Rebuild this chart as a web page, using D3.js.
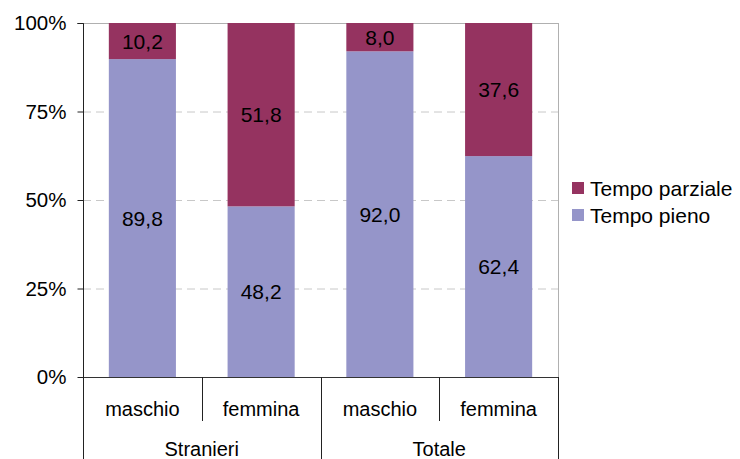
<!DOCTYPE html>
<html>
<head>
<meta charset="utf-8">
<script src="https://cdn.jsdelivr.net/npm/d3@7"></script>
<style>
  html, body { margin: 0; padding: 0; background: #fff; }
  svg { display: block; font-family: "Liberation Sans", Arial, sans-serif; }
</style>
</head>
<body>
<svg id="chart" width="740" height="459"></svg>
<script>
// Part-time vs full-time share by group and sex
const groups = ["Stranieri", "Totale"];
const sexes = ["maschio", "femmina"];
const categories = ["Stranieri|maschio", "Stranieri|femmina", "Totale|maschio", "Totale|femmina"];
const tempoPieno = [89.8, 48.2, 92.0, 62.4];
const tempoParziale = [10.2, 51.8, 8.0, 37.6];
const yTicks = [0, 25, 50, 75, 100];
const seriesNames = ["Tempo pieno", "Tempo parziale"];
const seriesColors = ["#9595c9", "#953360"];

const svg = d3.select("#chart");
const m = { left: 83, right: 558, top: 23, bottom: 377 };

const x = d3.scaleBand().domain(categories).range([m.left, m.right]).paddingInner(0.435).paddingOuter(0.2175);
const y = d3.scaleLinear().domain([0, 100]).range([m.bottom, m.top]);

const rows = categories.map((c, i) => ({ cat: c, "Tempo pieno": tempoPieno[i], "Tempo parziale": tempoParziale[i] }));
const stack = d3.stack().keys(seriesNames)(rows);

// dashed gridlines
svg.append("g").selectAll("line").data(yTicks.filter(t => t > 0 && t < 100)).join("line")
  .attr("x1", m.left).attr("x2", m.right)
  .attr("y1", d => y(d) + 0.5).attr("y2", d => y(d) + 0.5)
  .attr("stroke", "#c8c8c8").attr("stroke-width", 1).attr("stroke-dasharray", "8,5");

// plot frame (top and right)
svg.append("line").attr("x1", m.left).attr("x2", m.right).attr("y1", m.top + 0.5).attr("y2", m.top + 0.5)
  .attr("stroke", "#b0b0b0");
svg.append("line").attr("x1", m.right + 0.5).attr("x2", m.right + 0.5).attr("y1", m.top).attr("y2", m.bottom)
  .attr("stroke", "#b0b0b0");

// bars
svg.append("g").selectAll("g").data(stack).join("g")
  .attr("fill", (d, i) => seriesColors[i])
  .selectAll("rect").data(d => d).join("rect")
  .attr("x", d => x(d.data.cat))
  .attr("width", x.bandwidth())
  .attr("y", d => y(d[1]))
  .attr("height", d => y(d[0]) - y(d[1]));

// value labels
const fmt = v => v.toFixed(1).replace(".", ",");
svg.append("g").selectAll("g").data(stack).join("g")
  .selectAll("text").data(d => d.map(p => ({ p, key: d.key }))).join("text")
  .attr("x", d => x(d.p.data.cat) + x.bandwidth() / 2)
  .attr("y", d => (y(d.p[0]) + y(d.p[1])) / 2)
  .attr("dy", "0.36em")
  .attr("text-anchor", "middle")
  .attr("font-size", 21)
  .attr("fill", "#000")
  .text(d => fmt(d.p.data[d.key]));

// y axis
const yAxis = d3.axisLeft(y).tickValues(yTicks).tickFormat(d => d + "%").tickSize(6).tickPadding(11);
const gy = svg.append("g").attr("transform", `translate(${m.left + 0.5},0)`).call(yAxis);
gy.select(".domain").attr("stroke", "#222").attr("d", `M-6,${m.top + 0.5}H0V${m.bottom}`);
gy.selectAll(".tick line").attr("stroke", "#222");
gy.selectAll(".tick text").attr("font-size", 20.5).attr("fill", "#000")
  .attr("font-family", '"Liberation Sans", Arial, sans-serif');

// baseline
svg.append("line").attr("x1", m.left).attr("x2", m.right + 1).attr("y1", m.bottom + 0.5).attr("y2", m.bottom + 0.5)
  .attr("stroke", "#333");

// multi-level category axis
const edges = d3.range(categories.length + 1).map(i => m.left + i * (m.right - m.left) / categories.length);
const ax = svg.append("g").attr("stroke", "#222");
edges.forEach((e, i) => {
  const outer = i % 2 === 0;
  ax.append("line").attr("x1", Math.round(e) + 0.5).attr("x2", Math.round(e) + 0.5)
    .attr("y1", m.bottom).attr("y2", outer ? 459 : 421);
});
svg.append("g").selectAll("text").data(categories).join("text")
  .attr("x", d => x(d) + x.bandwidth() / 2)
  .attr("y", 416)
  .attr("text-anchor", "middle").attr("font-size", 20).attr("fill", "#000")
  .text(d => d.split("|")[1]);
svg.append("g").selectAll("text").data(groups).join("text")
  .attr("x", (d, i) => (edges[i * 2] + edges[i * 2 + 2]) / 2)
  .attr("y", 456)
  .attr("text-anchor", "middle").attr("font-size", 20).attr("fill", "#000")
  .text(d => d);

// legend
const legendItems = [seriesNames[1], seriesNames[0]];
const lg = svg.append("g").attr("transform", "translate(572,182)");
legendItems.forEach((name, i) => {
  const row = lg.append("g").attr("transform", `translate(0,${i * 27})`);
  row.append("rect").attr("width", 12).attr("height", 12)
    .attr("fill", seriesColors[seriesNames.indexOf(name)]);
  row.append("text").attr("x", 18).attr("y", 6).attr("dy", "0.36em")
    .attr("font-size", 21).attr("fill", "#000").text(name);
});
</script>
</body>
</html>
